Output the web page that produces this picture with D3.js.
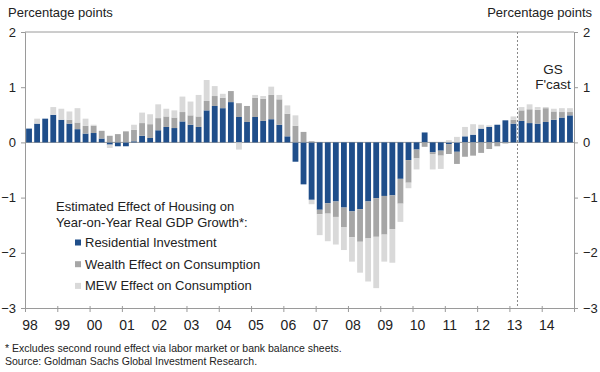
<!DOCTYPE html>
<html><head><meta charset="utf-8">
<script src="https://cdn.jsdelivr.net/npm/d3@7/dist/d3.min.js"></script>
<style>body{margin:0;background:#fff} svg{display:block;font-family:"Liberation Sans",Arial,sans-serif}</style>
</head><body><svg id="c" width="600" height="372"></svg>
<script>
// ---- data (quarterly, 1998Q1 .. 2014Q4) ----
const years = d3.range(1998, 2015);
const yearLabels = ["98","99","00","01","02","03","04","05","06","07","08","09","10","11","12","13","14"];
const residential = [
 0.25,0.34,0.43,0.50, 0.41,0.34,0.24,0.16, 0.17,0.07,-0.04,-0.07, -0.07,0.02,0.12,0.08,
 0.22,0.28,0.26,0.38, 0.32,0.28,0.58,0.66, 0.62,0.73,0.46,0.37, 0.46,0.39,0.42,0.32,
 0.11,-0.35,-0.76,-1.04, -1.22,-1.10,-1.07,-1.18, -1.25,-1.21,-1.07,-1.01, -0.97,-0.96,-0.66,-0.32,
 -0.13,0.18,-0.18,-0.15, -0.03,-0.17,0.11,0.14, 0.25,0.28,0.32,0.40, 0.34,0.39,0.35,0.34,
 0.37,0.41,0.45,0.49];
const wealth = [
 0,0,0,0, 0,0.07,0.12,0.14, 0.13,0.14,0.12,0.15, 0.20,0.21,0.23,0.25,
 0.22,0.19,0.19,0.17, 0.17,0.19,0.17,0.18, 0.19,0.20,0.25,0.29, 0.35,0.40,0.44,0.46,
 0.41,0.30,0.19,0.02, -0.08,-0.19,-0.28,-0.36, -0.47,-0.59,-0.67,-0.70, -0.70,-0.61,-0.45,-0.41,
 -0.16,-0.08,-0.03,-0.09, -0.18,-0.22,-0.26,-0.24, -0.19,-0.12,-0.07,-0.02, 0.07,0.19,0.25,0.25,
 0.25,0.15,0.10,0.06];
const mew = [
 0,0.09,0,0.14, 0.20,0.15,0.26,0.13, 0.02,0,-0.06,0, 0,0.09,0.19,0.18,
 0.25,0.14,0.13,0.28, 0.25,0.39,0.38,0.18, 0.07,0,-0.13,0, 0.05,0.05,0.15,0.08,
 0.15,0.19,0,-0.08, -0.38,-0.50,-0.50,-0.41, -0.44,-0.56,-0.78,-0.93, -0.49,-0.61,-0.33,-0.10,
 -0.20,0,-0.28,-0.24, 0.04,0.10,0.17,0.19, 0.07,0.03,0,0, 0.06,0.06,0.09,0.05,
 0.02,0.05,0.07,0.07];
const yTicks = [2,1,0,-1,-2,-3];
const seriesNames = ["Residential Investment","Wealth Effect on Consumption","MEW Effect on Consumption"];
const colors = ["#1f4e8a","#a6a6a6","#d9d9d9"];
const forecastStart = "2013Q2";

// ---- build table ----
const quarters = [];
years.forEach(y => [1,2,3,4].forEach(q => quarters.push(y + "Q" + q)));
const keys = ["res","wealth","mew"];
const table = quarters.map((q,i) => ({q, res: residential[i], wealth: wealth[i], mew: mew[i]}));
const stacked = d3.stack().keys(keys).offset(d3.stackOffsetDiverging)(table);

// ---- layout ----
const L = 25, R = 574, T = 32, B = 308;
const svg = d3.select("#c");
const x = d3.scaleBand().domain(quarters).range([L, R]).paddingInner(0.28).paddingOuter(0.14);
const xYear = d3.scaleLinear().domain([1998, 2015]).range([L, R]);
const y = d3.scaleLinear().domain([-3, 2]).range([B, T]);
const axisCol = "#9a9a9a";
const txtCol = "#222";

// zero line
svg.append("line").attr("x1", L).attr("x2", R).attr("y1", y(0)).attr("y2", y(0))
  .attr("stroke", axisCol).attr("stroke-width", 1);

// bars
svg.append("g").selectAll("g").data(stacked).join("g")
  .attr("fill", (d,i) => colors[i])
  .selectAll("rect").data(d => d).join("rect")
  .attr("x", d => x(d.data.q))
  .attr("width", x.bandwidth())
  .attr("y", d => y(Math.max(d[0], d[1])))
  .attr("height", d => Math.abs(y(d[0]) - y(d[1])));

// forecast divider
const xf = x(forecastStart) - x.step() * x.paddingInner() / 2;
svg.append("line").attr("x1", xf).attr("x2", xf).attr("y1", T).attr("y2", B)
  .attr("stroke", "#888").attr("stroke-width", 1).attr("stroke-dasharray", "2,2");
svg.append("text").attr("x", 553).attr("y", 74).attr("text-anchor","middle")
  .attr("font-size", 13.5).attr("fill", txtCol).text("GS");
svg.append("text").attr("x", 553).attr("y", 89).attr("text-anchor","middle")
  .attr("font-size", 13.5).attr("fill", txtCol).text("F'cast");

// frame: top line
svg.append("line").attr("x1", L).attr("x2", R).attr("y1", T).attr("y2", T)
  .attr("stroke", axisCol);

// left & right axes
const yl = d3.axisLeft(y).tickValues(yTicks).tickSize(4).tickPadding(5).tickFormat(d3.format("d"));
const yr = d3.axisRight(y).tickValues(yTicks).tickSize(4).tickPadding(5).tickFormat(d3.format("d"));
[[yl, L], [yr, R]].forEach(([ax, px]) => {
  const g = svg.append("g").attr("transform", `translate(${px},0)`).call(ax);
  g.select(".domain").attr("stroke", axisCol);
  g.selectAll(".tick line").attr("stroke", axisCol);
  g.selectAll("text").attr("font-size", 13).attr("fill", txtCol).attr("font-family", "Liberation Sans, Arial, sans-serif");
});

// bottom axis (year boundary ticks)
const xb = d3.axisBottom(xYear).tickValues(d3.range(1998, 2016)).tickSize(4).tickFormat("");
const gb = svg.append("g").attr("transform", `translate(0,${B})`).call(xb);
gb.select(".domain").attr("stroke", axisCol);
gb.selectAll(".tick line").attr("stroke", axisCol).attr("y1", -2);

// year labels, under Q1 of each year
svg.append("g").selectAll("text").data(years).join("text")
  .attr("x", (d) => x(d + "Q1") + x.bandwidth() / 2 + 1)
  .attr("y", B + 22)
  .attr("text-anchor", "middle").attr("font-size", 14).attr("fill", txtCol)
  .text((d,i) => yearLabels[i]);

// unit labels
svg.append("text").attr("x", 8).attr("y", 17).attr("font-size", 13).attr("fill", txtCol).text("Percentage points");
svg.append("text").attr("x", 592).attr("y", 17).attr("text-anchor","end").attr("font-size", 13).attr("fill", txtCol).text("Percentage points");

// legend
const lg = svg.append("g");
lg.append("text").attr("x", 56).attr("y", 211).attr("font-size", 13).attr("fill", txtCol).text("Estimated Effect of Housing on");
lg.append("text").attr("x", 56).attr("y", 226.5).attr("font-size", 13).attr("fill", txtCol).text("Year-on-Year Real GDP Growth*:");
seriesNames.forEach((s, i) => {
  const cy = 242.5 + i * 21.7;
  lg.append("rect").attr("x", 75).attr("y", cy - 3).attr("width", 6).attr("height", 6).attr("fill", colors[i]);
  lg.append("text").attr("x", 85).attr("y", cy + 4.5).attr("font-size", 13).attr("fill", txtCol).text(s);
});

// notes
svg.append("text").attr("x", 5).attr("y", 352).attr("font-size", 10.5).attr("fill", txtCol)
  .text("* Excludes second round effect via labor market or bank balance sheets.");
svg.append("text").attr("x", 5).attr("y", 365).attr("font-size", 10.5).attr("fill", txtCol)
  .text("Source: Goldman Sachs Global Investment Research.");
</script></body></html>
